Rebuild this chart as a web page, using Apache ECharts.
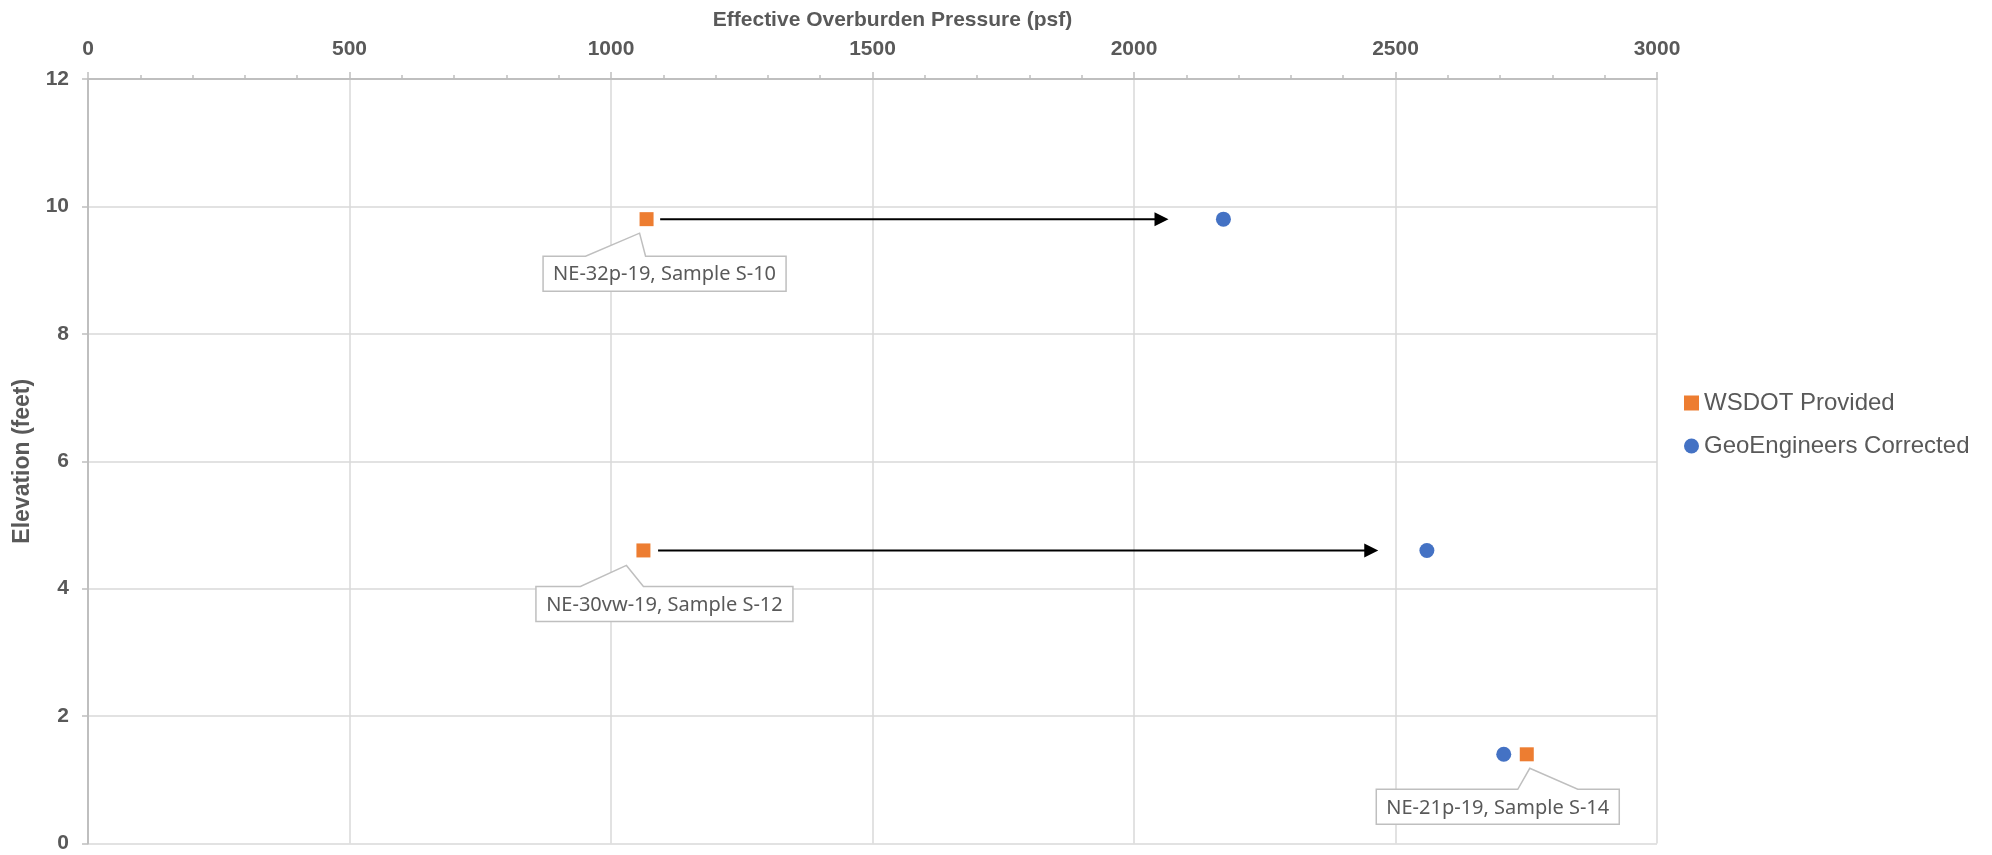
<!DOCTYPE html>
<html>
<head>
<meta charset="utf-8">
<title>Effective Overburden Pressure vs Elevation</title>
<script src="https://cdn.jsdelivr.net/npm/echarts@6/dist/echarts.min.js"></script>
<style>
  html, body { margin: 0; padding: 0; background: #ffffff; }
  #chart { width: 1992px; height: 855px; }
</style>
</head>
<body>
<div id="chart"></div>
<script>
// Sample values: effective overburden pressure (psf) at elevation (feet)
const sampleNames = ['NE-32p-19, Sample S-10', 'NE-30vw-19, Sample S-12', 'NE-21p-19, Sample S-14'];
const elevation   = [9.8, 4.6, 1.4];
const wsdotPressure = [1068, 1062, 2751];
const geoPressure   = [2171, 2560, 2707];

// Change arrows drawn between the two estimates (start, tip, elevation)
const arrowStart = [1094, 1090];
const arrowEnd   = [2066, 2467];
const arrowElev  = [9.8, 4.6];

// Axis ticks
const xTicks = { min: 0, max: 3000, interval: 500 };
const yTicks = { min: 0, max: 12, interval: 2 };

// Callout geometry in pixels, relative to the labelled point
const calloutLayout = [
  { dx: 18,  top: 37, apex: [-7, 14],  base: [-61, -1] },
  { dx: 21,  top: 36, apex: [-17, 15], base: [-63, 0] },
  { dx: -29, top: 35, apex: [3, 14],   base: [-9, 51] }
];

const ORANGE = '#ED7D31';
const BLUE = '#4472C4';
const TEXT = '#595959';
const GRID = '#d9d9d9';
const AXIS = '#bfbfbf';
const CALLOUT_FONT = '20px "Noto Sans", "Open Sans", sans-serif';
const SANS = '"Liberation Sans", Arial, sans-serif';

const measureCtx = document.createElement('canvas').getContext('2d');
function textWidth(str) {
  measureCtx.font = CALLOUT_FONT;
  return measureCtx.measureText(str).width;
}

const chart = echarts.init(document.getElementById('chart'), null, { renderer: 'canvas' });

const boldLabel = { color: TEXT, fontFamily: SANS, fontWeight: 'bold', fontSize: 21 };

const option = {
  animation: false,
  backgroundColor: '#ffffff',
  grid: { left: 88, right: 335, top: 79, bottom: 11.5, containLabel: false },
  legend: {
    orient: 'vertical',
    left: 1679,
    top: 386,
    itemWidth: 15,
    itemHeight: 15,
    itemGap: 19,
    selectedMode: false,
    textStyle: { color: TEXT, fontSize: 24, fontFamily: SANS },
    data: [
      { name: 'WSDOT Provided', icon: 'rect' },
      { name: 'GeoEngineers Corrected', icon: 'circle' }
    ]
  },
  xAxis: {
    type: 'value',
    position: 'top',
    min: xTicks.min, max: xTicks.max, interval: xTicks.interval,
    name: 'Effective Overburden Pressure (psf)',
    nameLocation: 'middle',
    nameGap: 48,
    nameTextStyle: Object.assign({}, boldLabel, { padding: [0, 0, 0, 40] }),
    axisLine: { show: true, onZero: false, lineStyle: { color: AXIS, width: 2 } },
    axisTick: { show: true, inside: false, length: 7, lineStyle: { color: AXIS, width: 1.5 } },
    minorTick: { show: true, splitNumber: 5, length: 4, lineStyle: { color: AXIS, width: 1.5 } },
    axisLabel: Object.assign({}, boldLabel, { margin: 19, formatter: v => String(v) }),
    splitLine: { show: true, lineStyle: { color: GRID, width: 1.5 } }
  },
  yAxis: {
    type: 'value',
    min: yTicks.min, max: yTicks.max, interval: yTicks.interval,
    name: 'Elevation (feet)',
    nameLocation: 'middle',
    nameGap: 54,
    nameTextStyle: Object.assign({}, boldLabel, { fontSize: 23 }),
    axisLine: { show: true, onZero: false, lineStyle: { color: AXIS, width: 2 } },
    axisTick: { show: true, inside: false, length: 6, lineStyle: { color: AXIS, width: 1.5 } },
    axisLabel: Object.assign({}, boldLabel, { margin: 19, formatter: v => String(v) }),
    splitLine: { show: true, lineStyle: { color: GRID, width: 1.5 } }
  },
  series: [
    {
      // Callout boxes naming each WSDOT sample
      type: 'custom',
      name: 'callouts',
      silent: true,
      z: 2,
      data: sampleNames.map((n, i) => [wsdotPressure[i], elevation[i]]),
      encode: { x: 0, y: 1 },
      renderItem: function (params, api) {
        const i = params.dataIndex;
        const lay = calloutLayout[i];
        const p = api.coord([api.value(0), api.value(1)]);
        const text = sampleNames[i];
        const w = Math.round(textWidth(text)) + 20;
        const h = 35;
        const cx = p[0] + lay.dx;
        const L = cx - w / 2, R = cx + w / 2;
        const T = p[1] + lay.top, B = T + h;
        const points = [
          [L, T], [p[0] + lay.base[0], T], [p[0] + lay.apex[0], p[1] + lay.apex[1]],
          [p[0] + lay.base[1], T], [R, T], [R, B], [L, B]
        ];
        return {
          type: 'group',
          children: [
            { type: 'polygon', shape: { points: points },
              style: { fill: '#ffffff', stroke: AXIS, lineWidth: 1.5 } },
            { type: 'text', x: cx, y: (T + B) / 2 + 1,
              style: { text: text, font: CALLOUT_FONT, fill: TEXT,
                       align: 'center', verticalAlign: 'middle' } }
          ]
        };
      }
    },
    {
      // Arrows from the provided value to the corrected value
      type: 'custom',
      name: 'arrows',
      silent: true,
      z: 3,
      data: arrowStart.map((s, i) => [s, arrowEnd[i], arrowElev[i]]),
      encode: { x: [0, 1], y: 2 },
      renderItem: function (params, api) {
        const y = api.value(2);
        const a = api.coord([api.value(0), y]);
        const b = api.coord([api.value(1), y]);
        const head = 14, half = 7;
        return {
          type: 'group',
          children: [
            { type: 'line', shape: { x1: a[0], y1: a[1], x2: b[0] - head + 1, y2: b[1] },
              style: { stroke: '#000000', lineWidth: 2 } },
            { type: 'polygon',
              shape: { points: [[b[0], b[1]], [b[0] - head, b[1] - half], [b[0] - head, b[1] + half]] },
              style: { fill: '#000000' } }
          ]
        };
      }
    },
    {
      name: 'WSDOT Provided',
      type: 'scatter',
      symbol: 'rect',
      symbolSize: 14,
      z: 4,
      itemStyle: { color: ORANGE, opacity: 1 },
      data: wsdotPressure.map((x, i) => [x, elevation[i]])
    },
    {
      name: 'GeoEngineers Corrected',
      type: 'scatter',
      symbol: 'circle',
      symbolSize: 15,
      z: 4,
      itemStyle: { color: BLUE, opacity: 1 },
      data: geoPressure.map((x, i) => [x, elevation[i]])
    }
  ]
};

chart.setOption(option);
</script>
</body>
</html>
